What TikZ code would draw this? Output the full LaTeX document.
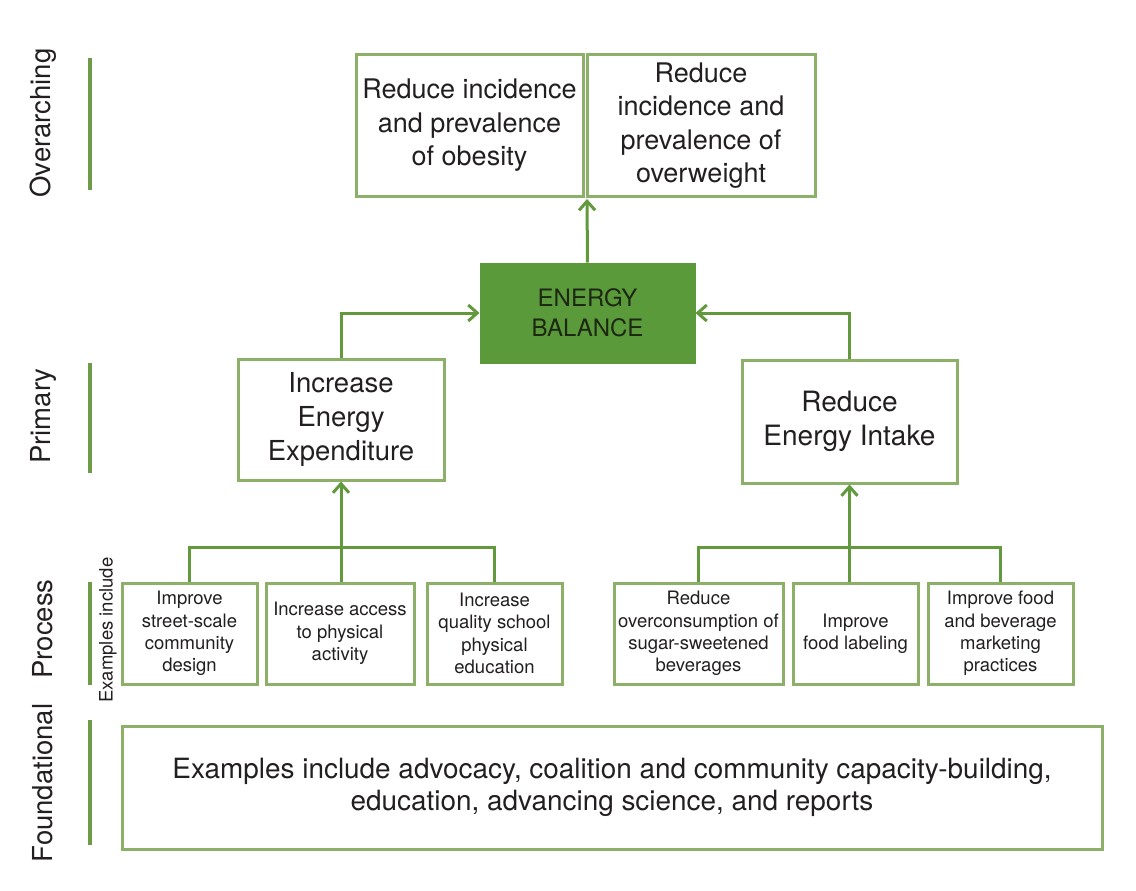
\documentclass[tikz,border=0pt]{standalone}
\usepackage{fontspec}
\setmainfont{TeX Gyre Heros}
\usetikzlibrary{arrows.meta}
\definecolor{barc}{HTML}{6E9B45}
\definecolor{boxc}{HTML}{8CB068}
\definecolor{linec}{HTML}{62993C}
\definecolor{ebfill}{HTML}{5B9A3B}
\definecolor{txt}{HTML}{231F20}
\definecolor{ebtxt}{HTML}{1C2812}
\tikzset{
  lvlbar/.style={draw=barc, line width=3.5pt},
  lvltext/.style={rotate=90, text=txt, font=\fontsize{27.5}{33}\selectfont},
  gbox/.style={draw=boxc, line width=3pt, fill=white, align=center, inner sep=0pt, text=txt},
  bigtext/.style={font=\fontsize{27}{33.5}\selectfont},
  smalltext/.style={font=\fontsize{18.5}{22.3}\selectfont},
  conn/.style={draw=linec, line width=3pt},
  arr/.style={conn, -{Straight Barb[length=9pt,width=16pt]}},
}
\begin{document}
\begin{tikzpicture}[x=1pt,y=-1pt]
\fill[white] (0,0) rectangle (1136,891);
\useasboundingbox (0,0) rectangle (1136,891);

% level labels and bars
\node[lvltext] (lo) at (43,123) {Overarching};
\node[lvltext] (lp) at (43,416) {Primary};
\node[lvltext] (lpr) at (43,629) {Process};
\node[lvltext] (lf) at (43,783) {Foundational};
\node[rotate=90, text=txt, font=\fontsize{18.5}{22}\selectfont] (exi) at (108,630) {Examples include};
\draw[lvlbar] (90,58) -- (90,190);
\draw[lvlbar] (90,363) -- (90,473);
\draw[lvlbar] (90,582) -- (90,685);
\draw[lvlbar] (90,720) -- (90,845);

% overarching boxes
\node[gbox, bigtext, minimum width=227pt, minimum height=141pt] (ob) at (469.5,125.5)
  {Reduce incidence\\and prevalence\\of obesity};
\node[gbox, bigtext, minimum width=228pt, minimum height=141pt] (ow) at (701,125.5)
  {Reduce\\incidence and\\prevalence of\\overweight};
\coordinate (topmid) at (587,199);

% energy balance
\node[draw=ebfill, fill=ebfill, line width=1pt, minimum width=215pt, minimum height=100pt,
  align=center, text=ebtxt, font=\fontsize{24}{30}\selectfont] (eb) at (587.5,313)
  {ENERGY\\BALANCE};

% primary boxes
\node[gbox, font=\fontsize{27.5}{34}\selectfont, minimum width=206pt, minimum height=121pt] (iee) at (341,419.5)
  {Increase\\Energy\\Expenditure};
\node[gbox, font=\fontsize{28}{33.5}\selectfont, minimum width=215pt, minimum height=123pt] (rei) at (849.5,421.5)
  {Reduce\\Energy Intake};

% process boxes
\node[gbox, smalltext, minimum width=135pt, minimum height=101pt] (l1) at (189.5,633.5)
  {Improve\\street-scale\\community\\design};
\node[gbox, smalltext, minimum width=148pt, minimum height=101pt] (l2) at (340,633.5)
  {Increase access\\to physical\\activity};
\node[gbox, smalltext, minimum width=135pt, minimum height=101pt] (l3) at (494.5,633.5)
  {Increase\\quality school\\physical\\education};
\node[gbox, smalltext, minimum width=169pt, minimum height=101pt] (r1) at (698.5,633.5)
  {Reduce\\overconsumption of\\sugar-sweetened\\beverages};
\node[gbox, smalltext, minimum width=125pt, minimum height=101pt] (r2) at (855.5,633.5)
  {Improve\\food labeling};
\node[gbox, smalltext, minimum width=145pt, minimum height=101pt] (r3) at (1000.5,633.5)
  {Improve food\\and beverage\\marketing\\practices};

% foundational
\node[gbox, font=\fontsize{27.9}{32}\selectfont, minimum width=980pt, minimum height=123pt] (fb) at (612,787.5)
  {Examples include advocacy, coalition and community capacity-building,\\education, advancing science, and reports};

% connectors
\coordinate (busL) at (341,547);
\coordinate (busR) at (849.5,547);
\draw[arr] (eb.north) -- (topmid);
\draw[arr] (iee.north) |- (eb.west);
\draw[arr] (rei.north) |- (eb.east);
\draw[conn] (l1.north) -- (l1.north |- busL) -- (l3.north |- busL) -- (l3.north);
\draw[conn] (busL) -- (busL |- l2.north);
\draw[arr] (busL) -- (iee.south);
\draw[conn] (r1.north) -- (r1.north |- busR) -- (r3.north |- busR) -- (r3.north);
\draw[conn] (busR) -- (busR |- r2.north);
\draw[arr] (busR) -- (rei.south);
\end{tikzpicture}
\end{document}
